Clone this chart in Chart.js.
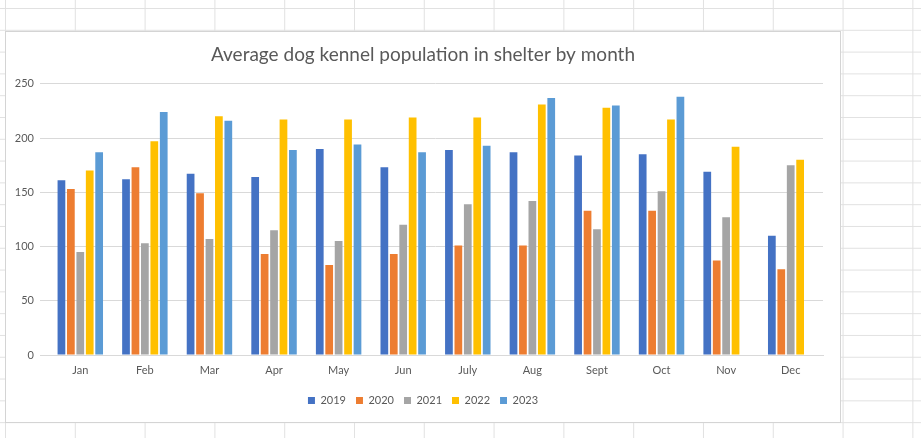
<!DOCTYPE html>
<html>
<head>
<meta charset="utf-8">
<script src="https://cdn.jsdelivr.net/npm/chart.js@4.4.1/dist/chart.umd.min.js"></script>
<style>
  html, body { margin: 0; padding: 0; }
  body {
    width: 921px;
    height: 438px;
    overflow: hidden;
    background-color: #fff;
    /* spreadsheet cells behind the chart */
    background-image:
      linear-gradient(to right, #e1e1e1 1px, transparent 1px),
      linear-gradient(to bottom, #e1e1e1 1px, transparent 1px);
    background-size: 69.8px 21.8px;
    background-position: 5px 8px;
  }
  #box {
    position: absolute;
    left: 5px;
    top: 31px;
    width: 834px;
    height: 390px;
    border: 1px solid #d4d4d4;
    background: #fff;
  }
</style>
</head>
<body>
<div id="box"><canvas id="kennelChart"></canvas></div>
<script>
const months = ['Jan', 'Feb', 'Mar', 'Apr', 'May', 'Jun', 'July', 'Aug', 'Sept', 'Oct', 'Nov', 'Dec'];
const years = ['2019', '2020', '2021', '2022', '2023'];

const pop2019 = [161, 162, 167, 164, 190, 173, 189, 187, 184, 185, 169, 110];
const pop2020 = [153, 173, 149, 93, 83, 93, 101, 101, 133, 133, 87, 79];
const pop2021 = [95, 103, 107, 115, 105, 120, 139, 142, 116, 151, 127, 175];
const pop2022 = [170, 197, 220, 217, 217, 219, 219, 231, 228, 217, 192, 180];
const pop2023 = [187, 224, 216, 189, 194, 187, 193, 237, 230, 238, null, null];

const yTicks = [0, 50, 100, 150, 200, 250];

const seriesColors = ['#4472C4', '#ED7D31', '#A5A5A5', '#FFC000', '#5B9BD5'];
const allSeries = [pop2019, pop2020, pop2021, pop2022, pop2023];

document.addEventListener('DOMContentLoaded', () => {
    const ctx = document.getElementById('kennelChart').getContext('2d');

    Chart.defaults.font.family = 'Lato, "Open Sans", sans-serif';
    Chart.defaults.color = '#595959';

    new Chart(ctx, {
        type: 'bar',
        data: {
            labels: months,
            datasets: years.map((y, i) => ({
                label: y,
                data: allSeries[i],
                backgroundColor: seriesColors[i],
                borderWidth: 0,
                barPercentage: 0.82,
                categoryPercentage: 0.73
            }))
        },
        options: {
            responsive: true,
            maintainAspectRatio: false,
            animation: false,
            layout: { padding: { left: 0, right: 0, top: 0, bottom: 6 } },
            plugins: {
                title: {
                    display: true,
                    text: 'Average dog kennel population in shelter by month',
                    font: { size: 19, weight: 'normal' },
                    color: '#595959',
                    padding: { top: 11, bottom: 18 }
                },
                legend: {
                    position: 'bottom',
                    labels: {
                        boxWidth: 7,
                        boxHeight: 7,
                        padding: 10,
                        font: { size: 11 },
                        color: '#595959'
                    }
                },
                tooltip: { enabled: false }
            },
            scales: {
                x: {
                    grid: { display: false },
                    border: { color: '#d9d9d9' },
                    ticks: { font: { size: 11 }, color: '#595959', padding: 1 },
                    afterFit: (scale) => { scale.height = 30; }
                },
                y: {
                    min: 0,
                    max: 250,
                    afterBuildTicks: (scale) => { scale.ticks = yTicks.map(v => ({ value: v })); },
                    grid: { color: '#d9d9d9' },
                    border: { display: false },
                    ticks: { font: { size: 11 }, color: '#595959', padding: 6 },
                    afterFit: (scale) => { scale.width = 42; }
                },
                // empty right-hand spacer so the plot ends where the original does
                spacer: {
                    position: 'right',
                    min: 0,
                    max: 250,
                    grid: { display: false },
                    border: { display: false },
                    ticks: { display: false },
                    afterFit: (scale) => { scale.width = 17; }
                }
            }
        }
    });
});
</script>
</body>
</html>
